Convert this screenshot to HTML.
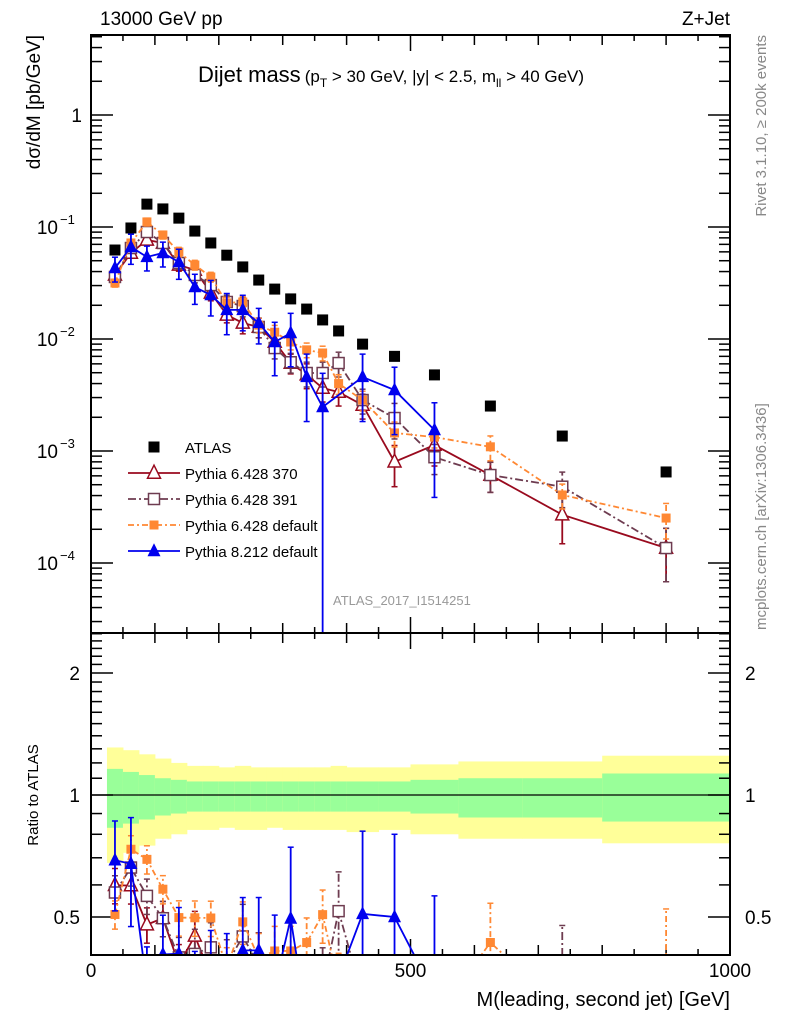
<!DOCTYPE html>
<html><head><meta charset="utf-8"><style>
body{margin:0;background:#fff;overflow:hidden;}
svg{display:block;font-family:"Liberation Sans",sans-serif;overflow:hidden;}
</style></head><body>
<svg id="chart" width="786" height="1024" viewBox="0 0 786 1024" xmlns="http://www.w3.org/2000/svg">
<defs>
<clipPath id="clipMain"><rect x="91" y="35" width="639" height="598"/></clipPath>
<clipPath id="clipRatio"><rect x="91" y="633" width="639" height="322"/></clipPath>
</defs>
<g id="bands" clip-path="url(#clipRatio)"></g>
<g id="ticks"></g>
<g id="marksMain" clip-path="url(#clipMain)"></g>
<g id="marksRatio" clip-path="url(#clipRatio)"></g>
<rect x="91" y="35" width="639" height="598" fill="none" stroke="#000" stroke-width="2"/>
<rect x="91" y="633" width="639" height="322" fill="none" stroke="#000" stroke-width="2"/>
<line x1="91" x2="730" y1="795" y2="795" stroke="#000" stroke-width="1.2"/>
<text x="100" y="25" font-size="19">13000 GeV pp</text>
<text x="730" y="25" font-size="19" text-anchor="end">Z+Jet</text>
<text x="198" y="82" font-size="22">Dijet mass<tspan font-size="17" dx="4">(p</tspan><tspan font-size="12" dy="5">T</tspan><tspan font-size="17" dy="-5"> &gt; 30 GeV, |y| &lt; 2.5, m</tspan><tspan font-size="12" dy="5">ll</tspan><tspan font-size="17" dy="-5"> &gt; 40 GeV)</tspan></text>
<text transform="translate(40,35) rotate(-90)" font-size="19" text-anchor="end">dσ/dM [pb/GeV]</text>
<text transform="translate(38,795) rotate(-90)" font-size="15" text-anchor="middle">Ratio to ATLAS</text>
<text transform="translate(766,35) rotate(-90)" font-size="15" fill="#888" text-anchor="end">Rivet 3.1.10, ≥ 200k events</text>
<text transform="translate(766,630) rotate(-90)" font-size="15" fill="#888">mcplots.cern.ch [arXiv:1306.3436]</text>
<text x="333" y="605" font-size="13" fill="#999">ATLAS_2017_I1514251</text>
<text x="730" y="1006" font-size="20" text-anchor="end">M(leading, second jet) [GeV]</text>
<g id="legend" font-size="15"></g>
</svg>
<script>
const edges=[25,50,75,100,125,150,175,200,225,250,275,300,325,350,375,400,450,500,575,675,800,1000];
const centers=[37.5,62.5,87.5,112.5,137.5,162.5,187.5,212.5,237.5,262.5,287.5,312.5,337.5,362.5,387.5,425,475,537.5,625,737.5,900];
const atlas=[0.0623,0.098,0.160,0.145,0.120,0.092,0.072,0.056,0.044,0.0336,0.0279,0.0228,0.0185,0.0148,0.0118,0.0090,0.0070,0.00478,0.00252,0.00136,0.00065];
const py370=[0.0373,0.0586,0.0766,0.072,0.0458,0.0413,0.0258,0.0164,0.0139,0.0128,0.0094,0.0061,0.0048,0.00365,0.00336,0.00257,0.0008,0.00113,0.00061,0.00027,0.000136];
const py391=[0.0358,0.0649,0.0902,0.072,0.0477,0.0373,0.0303,0.0214,0.0197,0.0128,0.0083,0.0062,0.00497,0.00497,0.0061,0.00285,0.00197,0.00088,0.00061,0.00048,0.000136];
const py6def=[0.0316,0.072,0.111,0.0849,0.0598,0.0458,0.0358,0.0210,0.0214,0.0133,0.0115,0.0094,0.0080,0.0075,0.0040,0.00285,0.00145,0.00133,0.00109,0.000405,0.000252];
const py8def=[0.043,0.0663,0.054,0.0586,0.0487,0.0291,0.0247,0.0182,0.0182,0.0139,0.0094,0.0113,0.00458,0.00247,null,0.00458,0.0035,0.00154,null,null,null];
const err370=[0.1,0.1,0.1,0.1,0.12,0.15,0.15,0.15,0.2,0.2,0.2,0.2,0.25,0.25,0.25,0.25,0.4,0.35,0.3,0.45,0.5];
const err391=[0.1,0.1,0.1,0.1,0.12,0.15,0.15,0.15,0.2,0.2,0.2,0.2,0.25,0.25,0.25,0.25,0.35,0.3,0.3,0.35,0.5];
const err6def=[0.08,0.08,0.08,0.08,0.1,0.1,0.1,0.12,0.12,0.15,0.15,0.15,0.15,0.15,0.2,0.2,0.25,0.2,0.25,0.25,0.35];
const err8def=[0.25,0.3,0.25,0.25,0.3,0.3,0.35,0.4,0.35,0.35,0.5,0.5,0.6,1.0,0,0.6,0.6,0.75,0,0,0];
const yelHi=[1.31,1.29,1.26,1.23,1.20,1.18,1.18,1.17,1.18,1.17,1.17,1.17,1.17,1.17,1.18,1.17,1.17,1.19,1.21,1.21,1.25];
const yelLo=[0.68,0.72,0.75,0.78,0.80,0.82,0.82,0.83,0.82,0.82,0.83,0.82,0.82,0.82,0.82,0.81,0.82,0.80,0.78,0.78,0.76];
const grnHi=[1.16,1.14,1.12,1.10,1.09,1.08,1.08,1.08,1.08,1.08,1.08,1.08,1.08,1.08,1.08,1.08,1.08,1.09,1.10,1.10,1.13];
const grnLo=[0.83,0.85,0.87,0.89,0.90,0.91,0.91,0.91,0.91,0.91,0.91,0.91,0.91,0.91,0.91,0.91,0.91,0.90,0.88,0.88,0.86];
const xTicks=[0,500,1000];
const xTickLabels=["0","500","1000"];
const yDecades=[1,0.1,0.01,0.001,0.0001];
const yDecadeLabels=[["1",""],["10","−1"],["10","−2"],["10","−3"],["10","−4"]];
const rTicks=[0.5,1,2];
const rTickLabels=["0.5","1","2"];

const NS="http://www.w3.org/2000/svg";
const X=v=>91+v*0.639;
const Y=v=>115-112*Math.log10(v);
const R=r=>795-122*Math.log2(r);
const clampY=y=>Math.max(0,Math.min(1020,y));
function el(tag,attrs,parent){const e=document.createElementNS(NS,tag);for(const k in attrs)e.setAttribute(k,attrs[k]);parent.appendChild(e);return e;}
const ticks=document.getElementById('ticks');
for(let v=0;v<=1000;v+=50){
  const len=v%500===0?16:(v%100===0?10:6);
  for(const [yb,dir] of [[955,-1],[633,-1],[633,1],[35,1]]){
    const t=el('line',{x1:X(v),x2:X(v),y1:yb,y2:yb+dir*len,stroke:'#000','stroke-width':1.5},ticks);
    
    
  }
}
xTicks.forEach((v,i)=>{
  const t=el('text',{x:X(v),y:977,'font-size':19,'text-anchor':'middle'},ticks);
  t.textContent=xTickLabels[i];
  
  
});
for(let d=-5;d<=1;d++){
  for(let m=1;m<10;m++){
    const v=m*Math.pow(10,d);const y=Y(v);
    if(y<35||y>633)continue;
    const len=m===1?22:11;
    const a=el('line',{x1:91,x2:91+len,y1:y,y2:y,stroke:'#000','stroke-width':1.5},ticks);
    
    
    const b=el('line',{x1:730,x2:730-len,y1:y,y2:y,stroke:'#000','stroke-width':1.5},ticks);
    
    
  }
}
yDecades.forEach((v,i)=>{
  const [base,exp]=yDecadeLabels[i];
  const t=el('text',{x:82,y:Y(v)+7,'font-size':19,'text-anchor':'end'},ticks);
  
  
  t.textContent=base;
  if(exp){
    t.setAttribute('x',58);
    const s=el('text',{x:60,y:Y(v)-3,'font-size':13},ticks);
    s.textContent=exp;
    
    
  }
});
for(let k=4;k<=25;k++){
  const r=k/10;const y=R(r);
  if(y<633||y>955)continue;
  const major=(k===5||k===10||k===20);
  const len=major?22:11;
  const a=el('line',{x1:91,x2:91+len,y1:y,y2:y,stroke:'#000','stroke-width':1.5},ticks);
  
  
  const b=el('line',{x1:730,x2:730-len,y1:y,y2:y,stroke:'#000','stroke-width':1.5},ticks);
  
  
}
rTicks.forEach((r,i)=>{
  const t=el('text',{x:80,y:R(r)+7,'font-size':19,'text-anchor':'end'},ticks);
  t.textContent=rTickLabels[i];
  
  
  const t2=el('text',{x:745,y:R(r)+7,'font-size':19},ticks);
  t2.textContent=rTickLabels[i];
  
  
});
const bands=document.getElementById('bands');
for(let i=0;i<centers.length;i++){
  const x0=X(edges[i]),x1=X(edges[i+1]);
  const y1=el('rect',{x:x0,width:x1-x0+0.5,y:R(yelHi[i]),height:R(yelLo[i])-R(yelHi[i]),fill:'#ffff99'},bands);
  
  
  const g1=el('rect',{x:x0,width:x1-x0+0.5,y:R(grnHi[i]),height:R(grnLo[i])-R(grnHi[i]),fill:'#99ff99'},bands);
  
  
}
function marker(g,type,x,y,color,size){
  let m;const s=size;
  if(type==='sq') m=el('rect',{x:x-s/2,y:y-s/2,width:s,height:s,fill:color},g);
  else if(type==='osq') m=el('rect',{x:x-s/2,y:y-s/2,width:s,height:s,fill:'#fff',stroke:color,'stroke-width':1.5},g);
  else if(type==='tri') m=el('polygon',{points:`${x},${y-s*0.6} ${x-s/2},${y+s*0.4} ${x+s/2},${y+s*0.4}`,fill:color},g);
  else m=el('polygon',{points:`${x},${y-s*0.6} ${x-s/2},${y+s*0.4} ${x+s/2},${y+s*0.4}`,fill:'#fff',stroke:color,'stroke-width':1.5},g);
  return m;
}
const series=[
 {name:'pythia-6428-370',vals:py370,err:err370,color:'#990a1e',dash:'',mk:'otri',size:13},
 {name:'pythia-6428-391',vals:py391,err:err391,color:'#6e3c50',dash:'8,3,2,3',mk:'osq',size:11},
 {name:'pythia-6428-default',vals:py6def,err:err6def,color:'#ff8833',dash:'6,3,2,3',mk:'sq',size:9},
 {name:'pythia-8212-default',vals:py8def,err:err8def,color:'#0000ee',dash:'',mk:'tri',size:13},
];
const gm=document.getElementById('marksMain');
const gr=document.getElementById('marksRatio');
function drawSeries(g,s,fy,ratio){
  const grp=el('g',{},g);
  
  
  const pts=[];
  s.vals.forEach((v,i)=>{
    if(v===null)return;
    const val=ratio?v/atlas[i]:v;
    const x=X(centers[i]),y=fy(val);
    pts.push([x,clampY(y)]);
    const lo=Math.max(val*(1-s.err[i]),1e-9),hi=val*(1+s.err[i]);
    const eb=el('line',{x1:x,x2:x,y1:clampY(fy(lo)),y2:clampY(fy(hi)),stroke:s.color,'stroke-width':1.8,'stroke-dasharray':s.dash},grp);
    
    
    for(const yy of [fy(lo),fy(hi)]){
      if(yy>1020)continue;
      const c=el('line',{x1:x-3,x2:x+3,y1:yy,y2:yy,stroke:s.color,'stroke-width':1.5},grp);
      
      
    }
  });
  const pl=el('polyline',{points:pts.map(p=>p.join(',')).join(' '),fill:'none',stroke:s.color,'stroke-width':1.8,'stroke-dasharray':s.dash},grp);
  
  
  pts.forEach(p=>{
    if(p[1]>=1020)return;
    const m=marker(grp,s.mk,p[0],p[1],s.color,s.size);
    
    
  });
}
series.forEach(s=>drawSeries(gm,s,Y,false));
const ga=el('g',{},gm);


atlas.forEach((v,i)=>{
  const m=marker(ga,'sq',X(centers[i]),Y(v),'#000',11);
  
  
});
series.forEach(s=>drawSeries(gr,s,R,true));
const lg=document.getElementById('legend');
const lm=marker(lg,'sq',154,447,'#000',11);


const lt=el('text',{x:185,y:453},lg);lt.textContent='ATLAS';


const labels=['Pythia 6.428 370','Pythia 6.428 391','Pythia 6.428 default','Pythia 8.212 default'];
series.forEach((s,i)=>{
  const y=473+26*i;
  const l=el('line',{x1:128,x2:180,y1:y,y2:y,stroke:s.color,'stroke-width':1.8,'stroke-dasharray':s.dash},lg);
  
  
  const m=marker(lg,s.mk,154,y,s.color,s.size);
  
  
  const t=el('text',{x:185,y:y+6},lg);t.textContent=labels[i];
  
  
});
</script>
</body></html>
